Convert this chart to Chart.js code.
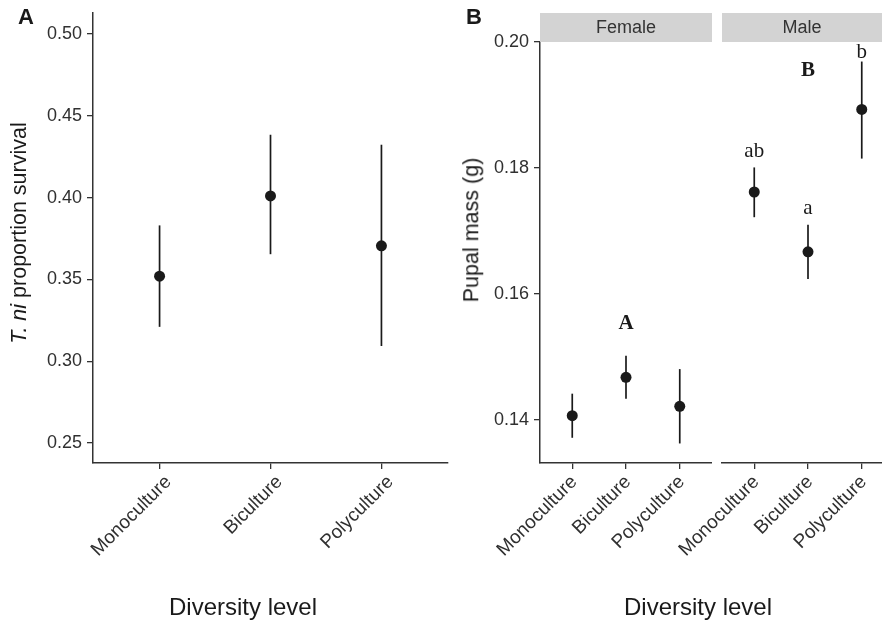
<!DOCTYPE html>
<html>
<head>
<meta charset="utf-8">
<script src="https://cdn.jsdelivr.net/npm/chart.js@4.4.0/dist/chart.umd.min.js"></script>
<style>
  body {
    margin: 0;
    width: 882px;
    height: 625px;
    overflow: hidden;
    position: relative;
    background: #fff;
    font-family: "Liberation Sans", Arial, sans-serif;
  }
  canvas { position: absolute; top: 0; }
  .txt { position: absolute; white-space: nowrap; color: #1a1a1a; line-height: 1; }
  .center { transform: translate(-50%, -50%); }
  .ytitle { font-size: 21.5px; transform: translate(-50%, -50%) rotate(-90deg); }
  .xtitle { font-size: 24px; }
  .tag { font-size: 22px; font-weight: bold; }
  .strip {
    position: absolute; top: 13px; height: 29px; background: #d3d3d3;
    font-size: 18px; color: #333; display: flex; align-items: center; justify-content: center;
  }
</style>
</head>
<body>

<canvas id="survivalChart" width="450" height="625" style="left:0px"></canvas>
<canvas id="femaleChart" width="262" height="625" style="left:450px"></canvas>
<canvas id="maleChart" width="262" height="625" style="left:632px"></canvas>

<div class="txt tag" style="left:18px; top:6px;">A</div>
<div class="txt tag" style="left:466px; top:6px;">B</div>

<div class="strip" style="left:540px; width:172px;">Female</div>
<div class="strip" style="left:722px; width:160px;">Male</div>

<div class="txt ytitle" style="left:20px; top:233px;"><i>T. ni</i> proportion survival</div>
<div class="txt ytitle" style="left:472px; top:230px;">Pupal mass (g)</div>

<div class="txt xtitle center" style="left:243px; top:607px;">Diversity level</div>
<div class="txt xtitle center" style="left:698px; top:607px;">Diversity level</div>

<script>
/* ---------- data ---------- */

const levels = ['Monoculture', 'Biculture', 'Polyculture'];
const levelPos = [1, 2, 3];

// panel A: survival
const survivalMean = [0.352, 0.401, 0.3705];
const survivalLow = [0.321, 0.3654, 0.3093];
const survivalHigh = [0.383, 0.4384, 0.4323];
const survivalTicks = [0.25, 0.30, 0.35, 0.40, 0.45, 0.50];

// panel B: pupal mass, female
const femaleMean = [0.1407, 0.1468, 0.1422];
const femaleLow = [0.1372, 0.1434, 0.1363];
const femaleHigh = [0.1442, 0.1502, 0.1481];
const femaleLetters = ['', 'A', ''];
const femaleLetterY = [null, 0.1544, null];

// panel B: pupal mass, male
const maleMean = [0.1762, 0.1667, 0.1893];
const maleLow = [0.1722, 0.1624, 0.1815];
const maleHigh = [0.1801, 0.1710, 0.1969];
const maleLetters = ['ab', 'a', 'b'];
const maleLetterY = [0.1818, 0.1727, 0.1974];
const maleGroupLetter = ['', 'B', ''];
const maleGroupLetterY = [null, 0.1946, null];

const massTicks = [0.14, 0.16, 0.18, 0.20];

/* ---------- plugins ---------- */

const INK = '#1a1a1a';
const AXIS = '#333333';

const errorBars = {
    id: 'errorBars',
    beforeDatasetsDraw(chart) {
        const ds = chart.data.datasets[0];
        const { ctx, scales: { x, y } } = chart;
        ctx.save();
        ctx.strokeStyle = INK;
        ctx.lineWidth = 1.7;
        ds.errLow.forEach((lo, i) => {
            const px = x.getPixelForValue(levelPos[i]);
            ctx.beginPath();
            ctx.moveTo(px, y.getPixelForValue(lo));
            ctx.lineTo(px, y.getPixelForValue(ds.errHigh[i]));
            ctx.stroke();
        });
        ctx.restore();
    }
};

const letterLabels = {
    id: 'letterLabels',
    afterDatasetsDraw(chart) {
        const ds = chart.data.datasets[0];
        if (!ds.letterSets) return;
        const { ctx, scales: { x, y } } = chart;
        ctx.save();
        ctx.fillStyle = INK;
        ctx.textAlign = 'center';
        ctx.textBaseline = 'alphabetic';
        ds.letterSets.forEach(set => {
            ctx.font = (set.bold ? 'bold ' : '') + '21px "Liberation Serif", "Times New Roman", serif';
            set.text.forEach((t, i) => {
                if (!t) return;
                ctx.fillText(t, x.getPixelForValue(levelPos[i]), y.getPixelForValue(set.y[i]));
            });
        });
        ctx.restore();
    }
};

/* ---------- builders ---------- */

function buildDataset(mean, low, high, letterSets) {
    return {
        data: mean.map((m, i) => ({ x: levelPos[i], y: m })),
        errLow: low,
        errHigh: high,
        letterSets: letterSets,
        pointRadius: 5.5,
        pointHoverRadius: 5.5,
        pointBackgroundColor: INK,
        pointBorderWidth: 0,
        showLine: false
    };
}

function buildOptions(cfg) {
    const family = '"Liberation Sans", Arial, sans-serif';
    return {
        responsive: false,
        animation: false,
        events: [],
        layout: {
            autoPadding: false,
            padding: { top: cfg.top, right: cfg.right, left: cfg.left, bottom: 0 }
        },
        plugins: { legend: { display: false }, tooltip: { enabled: false } },
        scales: {
            x: {
                type: 'linear',
                min: 0.4,
                max: 3.6,
                afterBuildTicks: s => { s.ticks = levelPos.map(v => ({ value: v })); },
                afterFit: s => { s.height = 162; s.paddingLeft = 0; s.paddingRight = 0; },
                ticks: {
                    callback: v => levels[v - 1],
                    minRotation: 45,
                    maxRotation: 45,
                    autoSkip: false,
                    padding: 2,
                    labelOffset: cfg.labelShift,
                    color: '#303030',
                    font: { family, size: 19 }
                },
                grid: { drawOnChartArea: false, tickLength: 6, color: AXIS, lineWidth: 1.3 },
                border: { display: true, color: AXIS, width: 1.5 }
            },
            y: {
                type: 'linear',
                display: cfg.showY,
                min: cfg.yMin,
                max: cfg.yMax,
                afterBuildTicks: s => { s.ticks = cfg.yTicks.map(v => ({ value: v })); },
                afterFit: s => { s.width = cfg.yWidth; s.paddingTop = 0; s.paddingBottom = 0; },
                ticks: {
                    callback: v => v.toFixed(2),
                    padding: 5,
                    color: '#303030',
                    font: { family, size: 18 }
                },
                grid: { drawOnChartArea: false, tickLength: 6, color: AXIS, lineWidth: 1.3 },
                border: { display: true, color: AXIS, width: 1.5 }
            }
        }
    };
}

/* ---------- charts ---------- */

new Chart(document.getElementById('survivalChart'), {
    type: 'scatter',
    data: { datasets: [buildDataset(survivalMean, survivalLow, survivalHigh, null)] },
    options: buildOptions({ top: 13, right: 2, left: 0, showY: true, yWidth: 93, labelShift: 9,
        yMin: 0.2378, yMax: 0.5128, yTicks: survivalTicks }),
    plugins: [errorBars, letterLabels]
});

new Chart(document.getElementById('femaleChart'), {
    type: 'scatter',
    data: { datasets: [buildDataset(femaleMean, femaleLow, femaleHigh,
        [{ text: femaleLetters, y: femaleLetterY, bold: true }])] },
    options: buildOptions({ top: 42, right: 0, left: 0, showY: true, yWidth: 90, labelShift: 2,
        yMin: 0.1332, yMax: 0.20, yTicks: massTicks }),
    plugins: [errorBars, letterLabels]
});

// male panel shares the female y range; the empty left margin leaves room for rotated labels
new Chart(document.getElementById('maleChart'), {
    type: 'scatter',
    data: { datasets: [buildDataset(maleMean, maleLow, maleHigh, [
        { text: maleLetters, y: maleLetterY, bold: false },
        { text: maleGroupLetter, y: maleGroupLetterY, bold: true }
    ])] },
    options: buildOptions({ top: 42, right: 0, left: 90, showY: false, yWidth: 0, labelShift: 2,
        yMin: 0.1332, yMax: 0.20, yTicks: massTicks }),
    plugins: [errorBars, letterLabels]
});
</script>
</body>
</html>
